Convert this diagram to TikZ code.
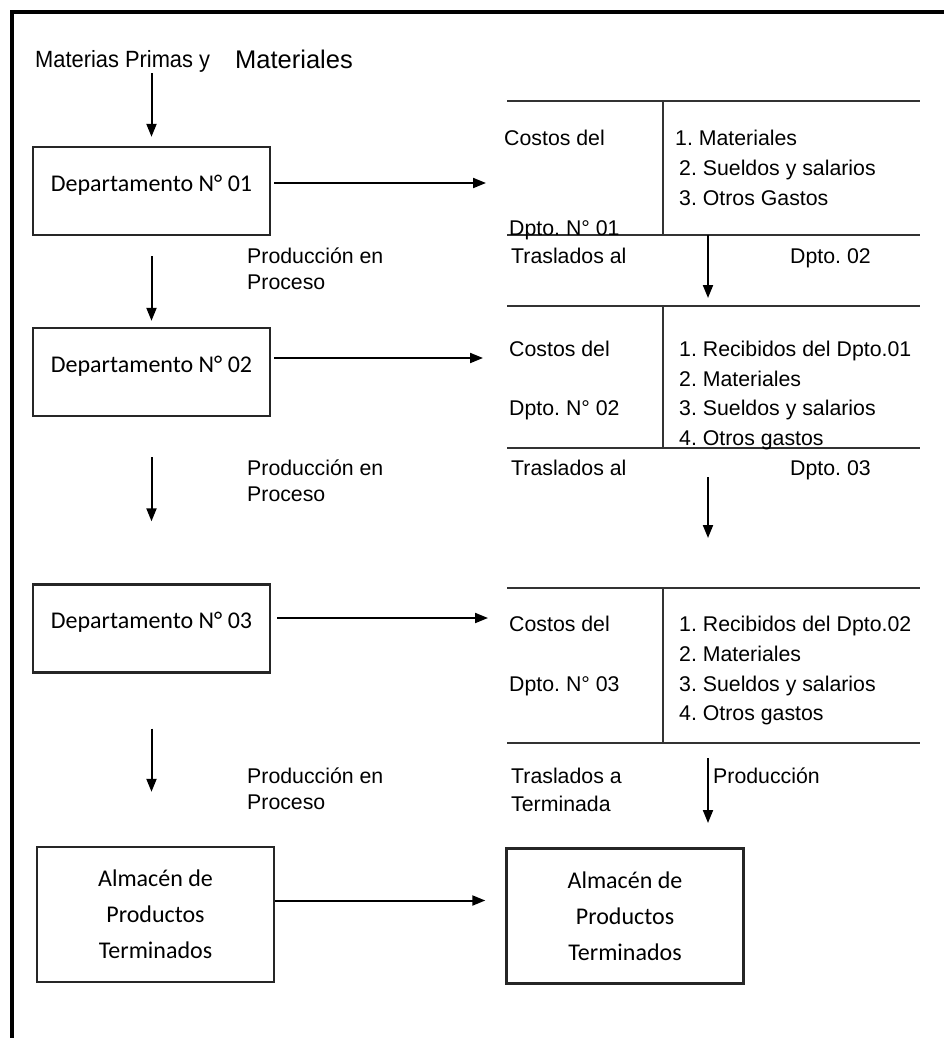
\documentclass[tikz,border=0pt]{standalone}
\usepackage{fontspec}
\setmainfont{Liberation Sans}
\newfontfamily\calibri{Carlito}
\usetikzlibrary{arrows.meta}
\frenchspacing

\begin{document}
\begin{tikzpicture}[x=1pt,y=-1pt,
    flecha/.style={-{Triangle[length=13pt,width=10pt]},line width=2pt},
    caja/.style={draw,line width=2.4pt,black!85,text=black,minimum width=237pt,minimum height=88pt,inner sep=0pt,
      text height=0pt,text depth=0pt,font=\calibri\fontsize{24}{26}\selectfont},
    almacen/.style={draw,line width=2.4pt,black!85,text=black,minimum width=237pt,minimum height=135pt,align=center,
      font=\calibri\fontsize{24}{36}\selectfont},
    texto/.style={anchor=base west,inner sep=0pt,font=\fontsize{21.3}{26}\selectfont},
    cuenta/.style={line width=2.6pt,black!80}]
    \useasboundingbox (0,0) rectangle (944,1038);

    % Marco
    \draw[line width=3.2pt] (12,1038) -- (12,12) -- (944,12);

    % Columna de departamentos
    \node[texto,font=\fontsize{23.5}{26}\selectfont] (materias) at (35,68) {\scalebox{0.93}[1]{Materias Primas y}};
    \node[texto,font=\fontsize{25.5}{28}\selectfont] (materiales) at (235,69) {Materiales};
    \node[caja] (d1) at (151.5,191) {Departamento N° 01};
    \node[caja] (d2) at (151.5,372) {Departamento N° 02};
    \node[caja] (d3) at (151.5,628.5) {Departamento N° 03};
    \node[almacen] (alm1) at (155.5,914.5) {Almacén de\\Productos\\Terminados};
    \node[almacen] (alm2) at (625,916) {Almacén de\\Productos\\Terminados};

    \draw[flecha,shorten >=9pt] (materias.south -| d1.north) -- (d1.north);
    \draw[flecha,shorten <=20pt,shorten >=6pt] (d1) -- (d2);
    \draw[flecha,shorten <=40pt,shorten >=62pt] (d2) -- (d3);
    \draw[flecha,shorten <=55pt,shorten >=54pt] (d3.south) -- (d3.south |- alm1.north);

    \node[texto] (proc1a) at (247,263) {Producción en};
    \node[texto] (proc1b) at (247,289) {Proceso};
    \node[texto] (proc2a) at (247,475) {Producción en};
    \node[texto] (proc2b) at (247,501) {Proceso};
    \node[texto] (proc3a) at (247,783) {Producción en};
    \node[texto] (proc3b) at (247,809) {Proceso};

    % Flechas hacia las cuentas
    \coordinate (e1) at (486,183);
    \coordinate (e2) at (483,358);
    \coordinate (e3) at (488,618);
    \draw[flecha] ([shift={(3pt,8pt)}]d1.east) -- (e1);
    \draw[flecha] ([shift={(3pt,14pt)}]d2.east) -- (e2);
    \draw[flecha] ([shift={(6pt,10.5pt)}]d3.east) -- (e3);
    \draw[flecha,shorten >=20pt] ([yshift=14pt]alm1.east) -- ([yshift=14pt]alm1.east -| alm2.west);

    % Cuenta del Dpto. 01
    \draw[cuenta] (507,101) -- (920,101) (663,101) -- (663,235) (507,235) -- (920,235);
    \node[texto] (costos1) at (504,145) {Costos del};
    \node[texto] (dpto1) at (509,235) {Dpto. N° 01};
    \node[texto] (c11) at (675,145) {1. Materiales};
    \node[texto] (c12) at (679,175) {2. Sueldos y salarios};
    \node[texto] (c13) at (679,205) {3. Otros Gastos};
    \node[texto] (tras1) at (511,263) {Traslados al};
    \node[texto] (hacia2) at (790,263) {Dpto. 02};

    % Cuenta del Dpto. 02
    \draw[cuenta] (507,306) -- (920,306) (663,306) -- (663,448) (507,448) -- (920,448);
    \node[texto] (costos2) at (509,356) {Costos del};
    \node[texto] (dpto2) at (509,415) {Dpto. N° 02};
    \node[texto] (c21) at (679,356) {1. Recibidos del Dpto.01};
    \node[texto] (c22) at (679,386) {2. Materiales};
    \node[texto] (c23) at (679,415) {3. Sueldos y salarios};
    \node[texto] (c24) at (679,445) {4. Otros gastos};
    \node[texto] (tras2) at (511,475) {Traslados al};
    \node[texto] (hacia3) at (790,475) {Dpto. 03};

    % Cuenta del Dpto. 03
    \draw[cuenta] (507,588) -- (920,588) (663,588) -- (663,743) (507,743) -- (920,743);
    \node[texto] (costos3) at (509,631) {Costos del};
    \node[texto] (dpto3) at (509,691) {Dpto. N° 03};
    \node[texto] (c31) at (679,631) {1. Recibidos del Dpto.02};
    \node[texto] (c32) at (679,661) {2. Materiales};
    \node[texto] (c33) at (679,691) {3. Sueldos y salarios};
    \node[texto] (c34) at (679,720) {4. Otros gastos};
    \node[texto] (tras3a) at (511,783) {Traslados a};
    \node[texto] (tras3b) at (511,811) {Terminada};
    \node[texto] (prodt) at (713,783) {Producción};

    % Traslados entre cuentas
    \coordinate (s1) at (708,235);
    \coordinate (l2) at (708,298);
    \coordinate (s2) at (708,477);
    \coordinate (l3) at (708,538);
    \coordinate (s3) at (708,758);
    \coordinate (l4) at (708,823);
    \draw[flecha] (s1) -- (l2);
    \draw[flecha] (s2) -- (l3);
    \draw[flecha] (s3) -- (l4);
\end{tikzpicture}
\end{document}
